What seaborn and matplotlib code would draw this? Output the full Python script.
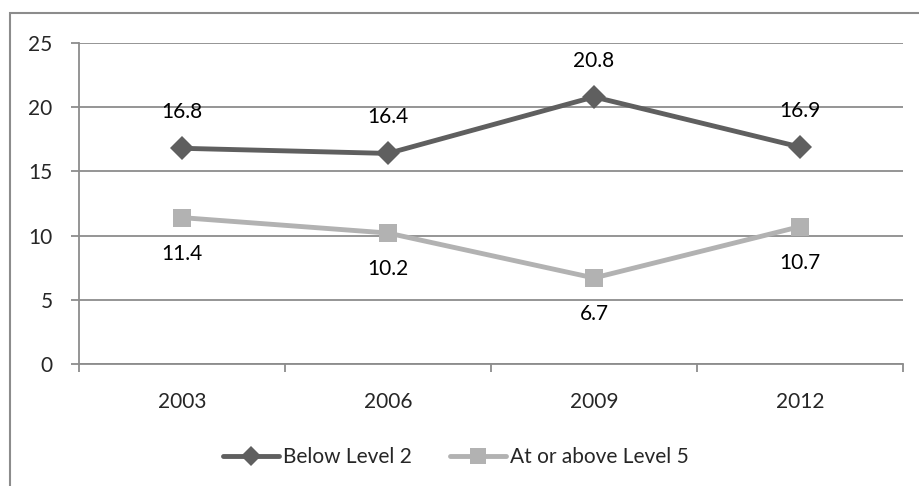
import pandas as pd
import seaborn as sns
import matplotlib.pyplot as plt
from matplotlib.patches import Rectangle
from matplotlib.lines import Line2D

years = ["2003", "2006", "2009", "2012"]
below_level2 = [16.8, 16.4, 20.8, 16.9]
above_level5 = [11.4, 10.2, 6.7, 10.7]
series_names = ["Below Level 2", "At or above Level 5"]

df = pd.DataFrame({
    "pos": list(range(len(years))) * 2,
    "value": below_level2 + above_level5,
    "series": [series_names[0]] * len(years) + [series_names[1]] * len(years),
})

sns.set_style("white")
plt.rcParams["font.family"] = ["Lato", "DejaVu Sans"]

dark = "#5f5f5f"
light = "#b2b2b2"
grid_c = "#8c8c8c"
fs = 15

fig = plt.figure(figsize=(9.2, 4.86), dpi=100)
ax = fig.add_axes([79 / 920, 1 - 364 / 486, (903 - 79) / 920, (364 - 43) / 486])

sns.lineplot(data=df, x="pos", y="value", hue="series", style="series",
             palette=[dark, light], markers=["D", "s"], dashes=False,
             linewidth=3.5, markersize=12.5, markeredgewidth=0, ax=ax, legend=False)

ax.set_xlim(-0.5, len(years) - 0.5)
ax.set_ylim(0, 25)
ax.set_yticks([0, 5, 10, 15, 20, 25])
ax.set_yticklabels(["0", "5", "10", "15", "20", "25"])
ax.set_xticks(range(len(years)))
ax.set_xticklabels(years)
ax.set_xticks([i - 0.5 for i in range(len(years) + 1)], minor=True)
ax.set_xlabel("")
ax.set_ylabel("")

ax.grid(axis="y", color=grid_c, linewidth=1.3)
for s in ["top", "right"]:
    ax.spines[s].set_visible(False)
for s in ["left", "bottom"]:
    ax.spines[s].set_color(grid_c)
    ax.spines[s].set_linewidth(1.3)

ax.tick_params(axis="y", which="major", length=6, width=1.3, color=grid_c,
               labelsize=fs, pad=13, left=True)
ax.tick_params(axis="x", which="major", length=0, labelsize=fs, pad=20)
ax.tick_params(axis="x", which="minor", length=6, width=1.3, color=grid_c, bottom=True)

for i, v in enumerate(below_level2):
    ax.annotate(f"{v}", (i, v), xytext=(0, 19), textcoords="offset points",
                ha="center", va="bottom", fontsize=fs, color="black")
for i, v in enumerate(above_level5):
    ax.annotate(f"{v}", (i, v), xytext=(0, -19), textcoords="offset points",
                ha="center", va="top", fontsize=fs, color="black")

handles = [
    Line2D([0], [0], color=dark, lw=3.5, marker="D", markersize=10, markeredgewidth=0),
    Line2D([0], [0], color=light, lw=3.5, marker="s", markersize=12, markeredgewidth=0),
]
fig.legend(handles, series_names, loc="center", bbox_to_anchor=(456 / 920, 1 - 457 / 486),
           ncol=2, frameon=False, fontsize=fs, handlelength=2.7, handletextpad=0.2,
           columnspacing=1.8)

fig.patches.append(Rectangle((10 / 920, -0.1), 1.2, 1 - 13 / 486 + 0.1,
                             transform=fig.transFigure, fill=False,
                             edgecolor="#8c8c8c", linewidth=1.5, zorder=0))

fig.savefig("out.png", dpi=100)
